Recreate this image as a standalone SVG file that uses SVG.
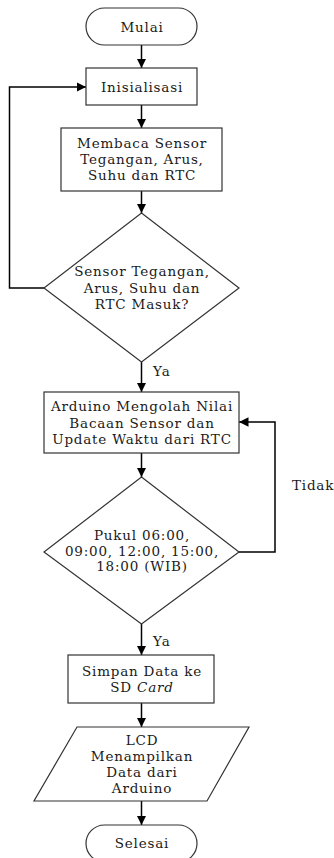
<svg xmlns="http://www.w3.org/2000/svg" width="334" height="858" viewBox="0 0 334 858">
<style>
.n{fill:#fff;stroke:#333;stroke-width:1.2}
.c{fill:none;stroke:#000;stroke-width:1.5}
text{font-family:"DejaVu Serif","Liberation Serif",serif;font-size:13.5px;fill:#1a1a1a;letter-spacing:0.8px}
.m{text-anchor:middle}
</style>
<defs>
<marker id="a" viewBox="0 0 10 10" refX="10" refY="5" markerWidth="9.5" markerHeight="9.5" markerUnits="userSpaceOnUse" orient="auto">
<path d="M0,0L10,5L0,10z" fill="#000"/>
</marker>
</defs>
<g id="connectors">
<path class="c" d="M141.5,45V68" marker-end="url(#a)"/>
<path class="c" d="M141.5,105V128" marker-end="url(#a)"/>
<path class="c" d="M141.5,191V213" marker-end="url(#a)"/>
<path class="c" d="M44,288H9.5V87H86" marker-end="url(#a)"/>
<path class="c" d="M141.5,362V392" marker-end="url(#a)"/>
<path class="c" d="M141.5,453V477" marker-end="url(#a)"/>
<path class="c" d="M239,552H275V422H239" marker-end="url(#a)"/>
<path class="c" d="M141.5,624V655" marker-end="url(#a)"/>
<path class="c" d="M141.5,703V727" marker-end="url(#a)"/>
<path class="c" d="M141.5,801V825" marker-end="url(#a)"/>
<text x="153" y="376">Ya</text>
<text x="292" y="489.5">Tidak</text>
<text x="153" y="646">Ya</text>
</g>
<g id="mulai">
<rect class="n" x="86" y="8" width="111" height="37" rx="18.5"/>
<text class="m" x="142" y="31.5">Mulai</text>
</g>
<g id="inisialisasi">
<rect class="n" x="86" y="68" width="111" height="37"/>
<text class="m" x="142" y="91.5">Inisialisasi</text>
</g>
<g id="membaca">
<rect class="n" x="61" y="128" width="161" height="63"/>
<text class="m" x="142" y="147.5">Membaca Sensor</text>
<text class="m" x="142" y="163.5">Tegangan, Arus,</text>
<text class="m" x="142" y="179.5">Suhu dan RTC</text>
</g>
<g id="cek-sensor">
<polygon class="n" points="141.5,213 239,288 141.5,362 44,288"/>
<text class="m" x="142" y="276">Sensor Tegangan,</text>
<text class="m" x="142" y="292.5">Arus, Suhu dan</text>
<text class="m" x="142" y="308.5">RTC Masuk?</text>
</g>
<g id="arduino">
<rect class="n" x="44" y="392" width="195" height="61"/>
<text class="m" x="142" y="411">Arduino Mengolah Nilai</text>
<text class="m" x="142" y="427.5">Bacaan Sensor dan</text>
<text class="m" x="142" y="443.5">Update Waktu dari RTC</text>
</g>
<g id="cek-pukul">
<polygon class="n" points="141.5,477 239,552 141.5,624 44,552"/>
<text class="m" x="142" y="539.5">Pukul 06:00,</text>
<text class="m" x="142" y="556">09:00, 12:00, 15:00,</text>
<text class="m" x="142" y="571">18:00 (WIB)</text>
</g>
<g id="simpan">
<rect class="n" x="68" y="655" width="146" height="48"/>
<text class="m" x="142" y="676">Simpan Data ke</text>
<text class="m" x="142" y="692">SD <tspan font-style="italic">Card</tspan></text>
</g>
<g id="lcd">
<polygon class="n" points="77,727 249,727 207,801 34,801"/>
<text class="m" x="142" y="745">LCD</text>
<text class="m" x="142" y="761">Menampilkan</text>
<text class="m" x="142" y="777">Data dari</text>
<text class="m" x="142" y="793">Arduino</text>
</g>
<g id="selesai">
<rect class="n" x="86" y="825" width="111" height="37" rx="18.5"/>
<text class="m" x="142" y="848">Selesai</text>
</g>
</svg>
